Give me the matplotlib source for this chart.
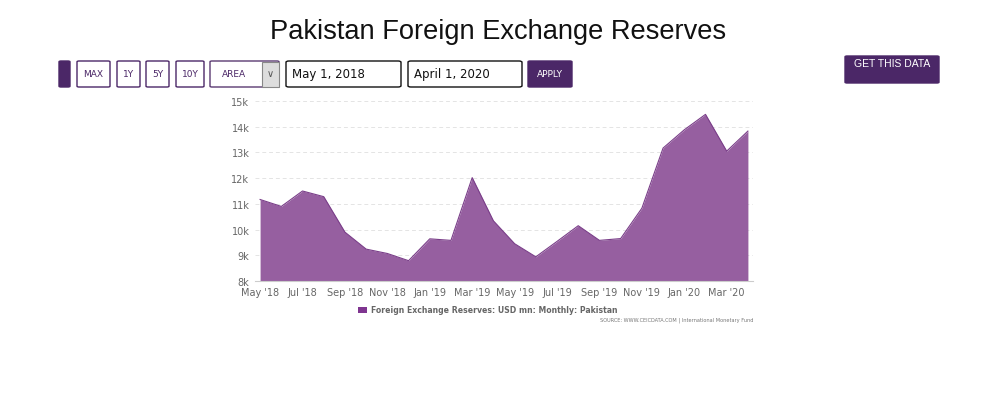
import matplotlib.pyplot as plt
from matplotlib.patches import FancyBboxPatch, Rectangle
import numpy as np

# monthly reserves, USD mn, May 2018 - Apr 2020
months = ['May 18', 'Jun 18', 'Jul 18', 'Aug 18', 'Sep 18', 'Oct 18', 'Nov 18', 'Dec 18',
          'Jan 19', 'Feb 19', 'Mar 19', 'Apr 19', 'May 19', 'Jun 19', 'Jul 19', 'Aug 19',
          'Sep 19', 'Oct 19', 'Nov 19', 'Dec 19', 'Jan 20', 'Feb 20', 'Mar 20', 'Apr 20']
reserves = [11170, 10900, 11500, 11280, 9900, 9240, 9070, 8790,
            9640, 9580, 12020, 10340, 9450, 8940, 9540, 10150,
            9580, 9650, 10830, 13170, 13880, 14480, 13050, 13830]
tick_labels = ["May '18", "Jul '18", "Sep '18", "Nov '18", "Jan '19", "Mar '19",
               "May '19", "Jul '19", "Sep '19", "Nov '19", "Jan '20", "Mar '20"]
y_ticks = [8000, 9000, 10000, 11000, 12000, 13000, 14000, 15000]
y_labels = ['8k', '9k', '10k', '11k', '12k', '13k', '14k', '15k']

W, H = 985, 410
plt.rcParams['font.family'] = ['Liberation Sans', 'DejaVu Sans']
fig = plt.figure(figsize=(9.85, 4.1), dpi=100)

def px(x, y):
    return x / W, 1 - y / H

# title
fig.text(498 / W, 1 - 32 / H, 'Pakistan Foreign Exchange Reserves', ha='center', va='center',
         fontsize=19.6, color='#111111')

purple = '#4b2767'

def box(x0, y0, x1, y1, face='white', edge=purple, lw=1.0, r=2):
    fx, fy = x0 / W, 1 - y1 / H
    p = FancyBboxPatch((fx, fy), (x1 - x0) / W, (y1 - y0) / H,
                       boxstyle='round,pad=0,rounding_size=%f' % (r / W),
                       transform=fig.transFigure, facecolor=face, edgecolor=edge, linewidth=lw)
    fig.patches.append(p)

# control bar
box(59, 62, 70, 88, face=purple, edge=purple)
for (x0, x1, lab) in [(77, 110, 'MAX'), (117, 140, '1Y'), (146, 169, '5Y'), (176, 204, '10Y')]:
    box(x0, 62, x1, 88)
    fig.text((x0 + x1) / 2 / W, 1 - 75 / H, lab, ha='center', va='center', fontsize=6.5,
             color='#4b2767', family=['DejaVu Sans'])
box(210, 62, 279, 88, edge='#5a3a72')
fig.patches.append(Rectangle(px(262, 87.5), 16.5 / W, 25 / H, transform=fig.transFigure,
                             facecolor='#dddddd', edgecolor='#888888', linewidth=0.8))
fig.text(234 / W, 1 - 75 / H, 'AREA', ha='center', va='center', fontsize=6.5, color='#4b2767',
         family=['DejaVu Sans'])
fig.text(270.5 / W, 1 - 74 / H, '\u2228', ha='center', va='center', fontsize=7, color='#555555',
         family=['DejaVu Sans'])
box(286, 62, 401, 88, edge='#111111', r=3)
fig.text(292 / W, 1 - 75 / H, 'May 1, 2018', ha='left', va='center', fontsize=8.5, color='#111111',
         family=['DejaVu Sans'])
box(408, 62, 522, 88, edge='#111111', r=3)
fig.text(414 / W, 1 - 75 / H, 'April 1, 2020', ha='left', va='center', fontsize=8.5, color='#111111',
         family=['DejaVu Sans'])
box(528, 62, 572, 88, face=purple, edge=purple)
fig.text(550 / W, 1 - 75 / H, 'APPLY', ha='center', va='center', fontsize=6.5, color='white',
         family=['DejaVu Sans'])
box(845, 57, 939, 84, face=purple, edge=purple)
fig.text(892 / W, 1 - 64 / H, 'GET THIS DATA', ha='center', va='center', fontsize=7.5, color='white')

# chart area
x0, x1, y0, y1 = 255, 753, 102, 282
ax = fig.add_axes([x0 / W, 1 - y1 / H, (x1 - x0) / W, (y1 - y0) / H])
x = np.arange(len(months))
ax.fill_between(x, reserves, 8000, color='#965fa0', linewidth=0)
ax.plot(x, reserves, color='#7a3e89', linewidth=0.8)
ax.set_xlim(-0.24, len(months) - 1 + 0.24)
ax.set_ylim(8000, 15000)
ax.set_yticks(y_ticks)
ax.set_yticklabels(y_labels)
ax.set_xticks(x[::2])
ax.set_xticklabels(tick_labels)
ax.tick_params(axis='both', length=0, labelsize=7, labelcolor='#666666', pad=4)
ax.tick_params(axis='x', pad=4)
for t in ax.get_xticklabels() + ax.get_yticklabels():
    t.set_family(['DejaVu Sans'])
ax.grid(axis='y', linestyle=(0, (4, 3)), color='#e4e4e4', linewidth=0.7)
ax.set_axisbelow(True)
for s in ['top', 'right', 'left']:
    ax.spines[s].set_visible(False)
ax.spines['bottom'].set_color('#cccccc')
ax.spines['bottom'].set_linewidth(0.8)

# legend and source
fig.patches.append(Rectangle(px(358, 313.5), 9 / W, 6 / H, transform=fig.transFigure,
                             facecolor='#7f3590', edgecolor='none'))
fig.text(371 / W, 1 - 310.5 / H, 'Foreign Exchange Reserves: USD mn: Monthly: Pakistan',
         ha='left', va='center', fontsize=5.6, fontweight='bold', color='#666666',
         family=['DejaVu Sans'])
fig.text(753 / W, 1 - 320 / H, 'SOURCE: WWW.CEICDATA.COM | International Monetary Fund',
         ha='right', va='center', fontsize=3.6, color='#777777', family=['DejaVu Sans'])

fig.savefig('out.png', dpi=100, facecolor='white')
